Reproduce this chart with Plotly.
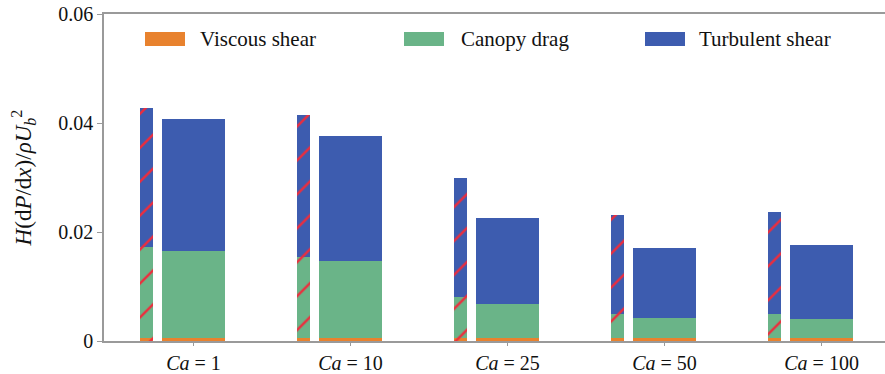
import plotly.graph_objects as go

# ---- data ----
categories = ["<i>Ca</i> = 1", "<i>Ca</i> = 10", "<i>Ca</i> = 25", "<i>Ca</i> = 50", "<i>Ca</i> = 100"]
cat_index = [0, 1, 2, 3, 4]

# narrow (hatched) bars
narrow_viscous = [0.0006, 0.0006, 0.0006, 0.0006, 0.0006]
narrow_canopy = [0.0167, 0.0148, 0.0074, 0.0044, 0.0044]
narrow_turbulent = [0.0254, 0.0261, 0.0220, 0.0181, 0.0187]

# wide bars
wide_viscous = [0.0006, 0.0006, 0.0006, 0.0006, 0.0006]
wide_canopy = [0.0159, 0.0141, 0.0061, 0.0036, 0.0035]
wide_turbulent = [0.0242, 0.0229, 0.0159, 0.0129, 0.0135]

series_names = ["Viscous shear", "Canopy drag", "Turbulent shear"]
y_ticks = [0, 0.02, 0.04, 0.06]
y_ticktext = ["0", "0.02", "0.04", "0.06"]

# ---- style ----
ORANGE = "#E8822E"
GREEN = "#6AB488"
BLUE = "#3D5CAF"
RED = "#EE2C3C"
AXIS = "#9a9a9a"
FONT = "Liberation Serif, Times New Roman, serif"

NARROW_OFFSET = -0.30
NARROW_W = 0.08
WIDE_W = 0.40

fig = go.Figure()

narrow_x = [i + NARROW_OFFSET for i in cat_index]
for vals, col in zip([narrow_viscous, narrow_canopy, narrow_turbulent], [ORANGE, GREEN, BLUE]):
    fig.add_trace(go.Bar(
        x=narrow_x, y=vals, width=NARROW_W, showlegend=False,
        marker=dict(color=col, line=dict(width=0),
                    pattern=dict(shape="/", fgcolor=RED, bgcolor=col, size=24, solidity=0.1,
                                 fgopacity=1, fillmode="overlay")),
        hoverinfo="skip",
    ))

for vals, col, name in zip([wide_viscous, wide_canopy, wide_turbulent], [ORANGE, GREEN, BLUE], series_names):
    fig.add_trace(go.Bar(
        x=cat_index, y=vals, width=WIDE_W, name=name, showlegend=False,
        marker=dict(color=col, line=dict(width=0)),
    ))

# ---- custom legend (wide swatches) ----
L, R, T, B = 104, 885, 14, 341
def px_x(p):
    return (p - L) / (R - L)
def px_y(p):
    return (B - p) / (B - T)

legend_items = [(145, 198, ORANGE), (404, 459, GREEN), (645, 697, BLUE)]
for (sx, tx, col), name in zip(legend_items, series_names):
    fig.add_shape(type="rect", xref="paper", yref="paper",
                  x0=px_x(sx), x1=px_x(sx + 40), y0=px_y(46), y1=px_y(32),
                  fillcolor=col, line=dict(width=0), layer="above")
    fig.add_annotation(xref="paper", yref="paper", x=px_x(tx), y=px_y(39),
                       text=name, showarrow=False, xanchor="left", yanchor="middle",
                       font=dict(family=FONT, size=21, color="#111"))

fig.update_layout(
    width=885, height=374,
    margin=dict(l=L, r=0, t=T, b=374 - B),
    barmode="stack",
    bargap=0,
    plot_bgcolor="white", paper_bgcolor="white",
    font=dict(family=FONT, size=20, color="#111"),
    showlegend=False,
    xaxis=dict(
        range=[-0.57, 4.404], tickvals=cat_index, ticktext=categories,
        showline=True, linecolor=AXIS, linewidth=1.5, mirror=True,
        ticks="outside", ticklen=3, tickcolor=AXIS, showgrid=False, zeroline=False,
        tickfont=dict(family=FONT, size=20, color="#111"),
        automargin=False,
    ),
    yaxis=dict(
        range=[0, 0.06], tickvals=y_ticks, ticktext=y_ticktext,
        showline=True, linecolor=AXIS, linewidth=1.5,
        ticks="outside", ticklen=5, tickcolor=AXIS, showgrid=False, zeroline=False,
        tickfont=dict(family=FONT, size=20, color="#111"),
        title=dict(text="<i>H</i>(d<i>P</i>/d<i>x</i>)/<i>ρU</i><sub><i>b</i></sub><sup>2</sup>",
                   font=dict(family=FONT, size=23, color="#111"), standoff=20),
        automargin=False,
    ),
)

fig.write_html("out.html")
